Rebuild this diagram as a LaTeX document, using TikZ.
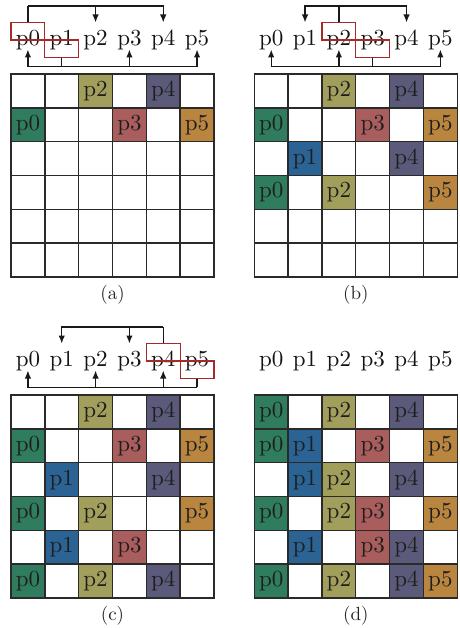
\documentclass[tikz,border=0pt]{standalone}
\usetikzlibrary{arrows.meta,calc}
\definecolor{P0}{HTML}{2F7D5E}
\definecolor{P1}{HTML}{2B6394}
\definecolor{P2}{HTML}{A29E5C}
\definecolor{P3}{HTML}{AA5D5D}
\definecolor{P4}{HTML}{5B5A7A}
\definecolor{P5}{HTML}{B9853F}
\definecolor{gridc}{HTML}{2A2A2A}
\definecolor{txtc}{HTML}{1E1E1E}
\definecolor{boxred}{HTML}{A52A2A}
\newcommand{\cw}{33.83}
\newcommand{\bigt}[1]{\scalebox{2.3}{\fontsize{10}{12}\selectfont #1}}
\newcommand{\capt}[1]{\scalebox{1.9}{\fontsize{10}{12}\selectfont #1}}
\newcommand{\gridpanel}[4]{%
  \foreach \r/\row in {#4}{%
    \foreach \v [count=\c] in \row {%
      \pgfmathsetmacro\cx{#2+(\c-0.5)*\cw}%
      \pgfmathsetmacro\cy{#3+(\r-0.5)*\cw}%
      \ifnum\v<0 \node[cell] (#1-\r-\c) at (\cx,\cy) {};%
      \else \node[cell,fill=P\v] (#1-\r-\c) at (\cx,\cy) {\bigt{p\v}};\fi
    }%
  }%
  \foreach \k in {0,...,5}{%
    \pgfmathsetmacro\cx{#2+(\k+0.5)*\cw}%
    \node[lab] (#1L\k) at (\cx,#3-38) {\bigt{p\k}};%
  }%
}
\begin{document}
\begin{tikzpicture}[x=1pt,y=-1pt,
  cell/.style={draw=gridc,line width=1.4pt,minimum size=\cw pt,inner sep=0pt,
    text=txtc},
  lab/.style={inner sep=0pt,minimum height=26.6pt,text height=20pt,text depth=0.6pt,
    text=black!92},
  rbox/.style={draw=boxred,line width=1.2pt,minimum width=\cw pt,minimum height=17.3pt,inner sep=0pt},
  conn/.style={draw=black!90,line width=1.3pt},
  arr/.style={conn,-{Latex[length=8pt,width=6.5pt]}},
  captxt/.style={text=black!85}]
\useasboundingbox (0,0) rectangle (459,628);

% (a)
\gridpanel{a}{11}{74}{1/{-1,-1,2,-1,4,-1},2/{0,-1,-1,3,-1,5},3/{-1,-1,-1,-1,-1,-1},4/{-1,-1,-1,-1,-1,-1},5/{-1,-1,-1,-1,-1,-1},6/{-1,-1,-1,-1,-1,-1}}
\node[rbox] (aB0) at ($(aL0)+(0,-4.65)$) {};
\node[rbox] (aB1) at ($(aL1)+(0,12.65)$) {};
\draw[conn] (aB0.north) -- ++(0,-16) coordinate (aT);
\draw[arr] (aT) -| (aL2.north);
\draw[arr] (aT) -| (aL4.north);
\draw[conn] (aB1.south) -- ++(0,8.4) coordinate (aU);
\draw[arr] (aU) -| (aL0.south);
\draw[arr] (aU) -| (aL3.south);
\draw[arr] (aU) -| (aL5.south);
\node[captxt] (capa) at (112.5,295) {\capt{(a)}};

% (b)
\gridpanel{b}{254.3}{74}{1/{-1,-1,2,-1,4,-1},2/{0,-1,-1,3,-1,5},3/{-1,1,-1,-1,4,-1},4/{0,-1,2,-1,-1,5},5/{-1,-1,-1,-1,-1,-1},6/{-1,-1,-1,-1,-1,-1}}
\node[rbox] (bB2) at ($(bL2)+(0,-4.65)$) {};
\node[rbox] (bB3) at ($(bL3)+(0,12.65)$) {};
\draw[conn] (bB2.north) -- ++(0,-16) coordinate (bT);
\draw[arr] (bT) -| (bL1.north);
\draw[arr] (bT) -| (bL4.north);
\draw[conn] (bB3.south) -- ++(0,8.4) coordinate (bU);
\draw[arr] (bU) -| (bL0.south);
\draw[arr] (bU) -| (bL2.south);
\draw[arr] (bU) -| (bL5.south);
\node[captxt] (capb) at (355.8,295) {\capt{(b)}};

% (c)
\gridpanel{c}{11}{395}{1/{-1,-1,2,-1,4,-1},2/{0,-1,-1,3,-1,5},3/{-1,1,-1,-1,4,-1},4/{0,-1,2,-1,-1,5},5/{-1,1,-1,3,-1,-1},6/{0,-1,2,-1,4,-1}}
\node[rbox] (cB4) at ($(cL4)+(0,-4.65)$) {};
\node[rbox] (cB5) at ($(cL5)+(0,12.65)$) {};
\draw[conn] (cB4.north) -- ++(0,-16) coordinate (cT);
\draw[arr] (cT) -| (cL1.north);
\draw[arr] (cT) -| (cL3.north);
\draw[conn] (cB5.south) -- ++(0,8.4) coordinate (cU);
\draw[arr] (cU) -| (cL0.south);
\draw[arr] (cU) -| (cL2.south);
\draw[arr] (cU) -| (cL4.south);
\node[captxt] (capc) at (112.5,616) {\capt{(c)}};

% (d)
\gridpanel{d}{254.3}{395}{1/{0,-1,2,-1,4,-1},2/{0,1,-1,3,-1,5},3/{-1,1,2,-1,4,-1},4/{0,-1,2,3,-1,5},5/{-1,1,-1,3,4,-1},6/{0,-1,2,-1,4,5}}
\node[captxt] (capd) at (355.8,616) {\capt{(d)}};
\end{tikzpicture}
\end{document}
